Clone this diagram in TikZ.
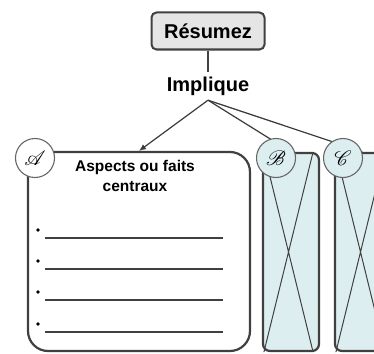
\documentclass[tikz,border=0pt]{standalone}
\usepackage{fontspec}
\setmainfont{Liberation Sans}
\usepackage{mathrsfs}
\usetikzlibrary{positioning,arrows.meta}
\definecolor{bordure}{RGB}{64,64,64}
\definecolor{grisclair}{RGB}{229,229,229}
\definecolor{bleupale}{RGB}{221,238,240}
\tikzset{
  titre/.style={draw=bordure, line width=2pt, fill=grisclair, rounded corners=5pt,
    minimum width=113pt, minimum height=37pt, inner sep=0pt,
    font=\bfseries\fontsize{20}{24}\selectfont},
  lien/.style={font=\bfseries\fontsize{20}{24}\selectfont, inner sep=0pt, minimum height=28pt},
  cadre/.style={draw=bordure, line width=2.2pt, fill=white, rounded corners=20pt,
    minimum width=222pt, minimum height=199pt},
  colonne/.style={draw=bordure, line width=2.2pt, fill=bleupale, rounded corners=7pt,
    minimum width=56pt, minimum height=198pt},
  pastille/.style={circle, draw=bordure!80, line width=1.1pt, minimum size=39pt, inner sep=0pt,
    font=\huge},
  puce/.style={circle, fill=black, minimum size=3.6pt, inner sep=0pt},
  trait/.style={line width=1.5pt, draw=bordure},
  fleche/.style={-{Latex[length=7pt,width=6pt]}, bordure!90!black, line width=1.2pt},
}
\begin{document}
\begin{tikzpicture}[x=1pt,y=-1pt]
  \clip (0,0) rectangle (374,353);
  \node[titre] (resumez) at (208,31)  {Résumez};
  \node[lien] (implique) at (208,86)  {Implique};
  \node[cadre] (boxA) at (139,251.5) {};
  \node[colonne] (boxB) at (291,252) {};
  \node[colonne] (boxC) at (363,252) {};
  \foreach \b in {boxB,boxC}
    \draw[bordure, line width=1pt] ([xshift=2pt]\b.north west) -- ([xshift=-7pt]\b.south east)
      ([xshift=-7pt]\b.north east) -- ([xshift=2pt]\b.south west);
  \node[align=center, font=\bfseries\fontsize{15.5}{19.5}\selectfont] (titreA) at (135,176) {Aspects ou faits\\centraux};
  \foreach \y [count=\i] in {238,269,300,332} {
    \node[puce] (puce\i) at (38,\y-8) {};
    \draw[trait] (45,\y) -- (223,\y);
  }
  \draw[bordure, line width=1.2pt] (resumez) -- (implique);
  \draw[fleche] (implique.south) -- (boxA.north);
  \draw[fleche] (implique.south) -- (boxB.north);
  \draw[fleche] (implique.south) -- (boxC.north);
  \node[pastille, fill=white] (circA) at (35,158) {$\mathscr{A}$};
  \node[pastille, fill=bleupale] (circB) at (276,158) {$\mathscr{B}$};
  \node[pastille, fill=bleupale] (circC) at (343,158) {$\mathscr{C}$};
\end{tikzpicture}
\end{document}
